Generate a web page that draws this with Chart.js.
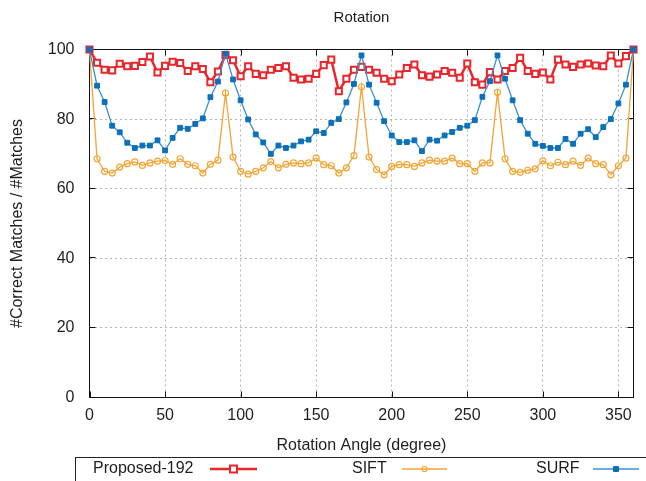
<!DOCTYPE html>
<html>
<head>
<meta charset="utf-8">
<title>Rotation</title>
<script src="https://cdn.jsdelivr.net/npm/chart.js@4/dist/chart.umd.min.js"></script>
<style>
  html, body { margin: 0; padding: 0; background: #fff; }
  canvas { display: block; }
</style>
</head>
<body>
<canvas id="rotationChart" width="646" height="481"></canvas>
<script>
// rotation angle in degrees, one sample every 5 degrees
const angles = [
    0, 5, 10, 15, 20, 25, 30, 35, 40, 45, 50, 55, 60, 65, 70, 75, 80, 85, 90,
    95, 100, 105, 110, 115, 120, 125, 130, 135, 140, 145, 150, 155, 160, 165, 170, 175, 180,
    185, 190, 195, 200, 205, 210, 215, 220, 225, 230, 235, 240, 245, 250, 255, 260, 265, 270,
    275, 280, 285, 290, 295, 300, 305, 310, 315, 320, 325, 330, 335, 340, 345, 350, 355, 360
];

// correct matches / matches (%)
const proposed192 = [
    100, 96.2, 94.2, 94.0, 95.9, 95.2, 95.3, 96.4, 98.0, 93.4, 95.3, 96.5, 96.1, 93.8, 95.2, 94.4, 90.6, 93.7, 98.4,
    96.9, 92.3, 95.2, 93.0, 92.6, 94.2, 94.7, 95.2, 91.9, 91.4, 91.6, 93.0, 95.5, 97.1, 88.0, 91.6, 94.2, 95.0,
    94.2, 93.3, 91.6, 90.9, 92.8, 94.7, 95.7, 92.6, 92.2, 92.8, 93.8, 93.3, 91.9, 96.0, 90.6, 89.9, 93.5, 91.4,
    93.8, 94.7, 97.6, 93.8, 93.0, 93.4, 91.4, 97.1, 95.7, 95.0, 95.7, 96.0, 95.4, 95.2, 98.3, 96.0, 98.1, 100
];
const sift = [
    100, 68.6, 65.0, 64.5, 66.2, 67.2, 67.7, 66.7, 67.4, 67.9, 68.1, 67.0, 68.6, 67.0, 66.6, 64.5, 67.0, 68.2, 87.5,
    69.1, 65.0, 64.2, 65.0, 66.0, 67.8, 66.0, 67.0, 67.4, 67.2, 67.4, 68.8, 66.9, 66.6, 64.5, 66.0, 69.5, 89.3,
    69.1, 65.5, 64.0, 66.4, 66.9, 66.9, 66.4, 67.4, 68.2, 67.9, 67.9, 68.8, 67.2, 67.2, 65.0, 67.4, 67.4, 87.7,
    68.6, 65.0, 64.7, 65.3, 65.7, 68.0, 66.6, 67.6, 66.9, 67.9, 66.7, 68.8, 67.2, 66.9, 64.0, 66.6, 68.8, 100
];
const surf = [
    100, 89.6, 84.9, 78.1, 76.2, 73.2, 71.7, 72.4, 72.4, 73.9, 71.0, 74.6, 77.5, 77.2, 78.6, 80.2, 86.3, 90.8, 98.8,
    91.4, 85.4, 79.9, 75.6, 73.3, 70.0, 72.4, 71.7, 72.4, 73.6, 74.1, 76.5, 76.0, 78.9, 80.0, 84.8, 90.1, 98.3,
    89.9, 84.7, 79.4, 75.3, 73.4, 73.4, 73.9, 70.8, 74.1, 73.8, 75.3, 76.3, 77.5, 78.1, 79.7, 86.4, 90.9, 98.3,
    91.6, 85.4, 79.7, 75.8, 72.9, 72.3, 71.7, 71.7, 74.3, 72.9, 75.8, 77.1, 74.8, 77.7, 80.0, 84.5, 89.9, 100
];

const seriesNames = ['Proposed-192', 'SIFT', 'SURF'];

const FONT = "'Liberation Sans', Arial, Helvetica, sans-serif";
const TEXT = '#1e1e1e';
const RED = '#e8262b';
const ORANGE = '#f2a535';
const BLUE = '#0b70b8';
const BLUE_LINE = '#3a8fd2';

function toPoints(values) {
    return angles.map((a, i) => ({ x: a, y: values[i] }));
}

function drawMarker(ctx, style, x, y) {
    ctx.save();
    ctx.lineWidth = style.borderWidth;
    ctx.strokeStyle = style.borderColor;
    ctx.fillStyle = style.fill;
    ctx.beginPath();
    if (style.shape === 'circle') {
        ctx.arc(x, y, style.size, 0, Math.PI * 2);
    } else {
        ctx.rect(x - style.size, y - style.size, style.size * 2, style.size * 2);
    }
    ctx.fill();
    ctx.stroke();
    ctx.restore();
}

// black frame with inward tick marks, drawn over the dotted grid
const framePlugin = {
    id: 'frame',
    beforeDatasetsDraw(chart) {
        const { ctx, chartArea: a, scales } = chart;
        ctx.save();
        ctx.strokeStyle = '#111';
        ctx.lineWidth = 1;
        ctx.strokeRect(a.left, a.top, a.right - a.left, a.bottom - a.top);
        ctx.beginPath();
        scales.x.ticks.forEach(t => {
            const px = Math.round(scales.x.getPixelForValue(t.value)) + 0.5;
            ctx.moveTo(px, a.bottom); ctx.lineTo(px, a.bottom - 6);
            ctx.moveTo(px, a.top); ctx.lineTo(px, a.top + 6);
        });
        scales.y.ticks.forEach(t => {
            const py = Math.round(scales.y.getPixelForValue(t.value)) - 0.5;
            ctx.moveTo(a.left, py); ctx.lineTo(a.left + 6, py);
            ctx.moveTo(a.right, py); ctx.lineTo(a.right - 6, py);
        });
        ctx.stroke();
        ctx.restore();
    },
    afterDraw(chart) {
        // boxed legend along the bottom edge
        const ctx = chart.ctx;
        const rowY = 469;
        ctx.save();
        ctx.strokeStyle = '#222';
        ctx.lineWidth = 1;
        ctx.strokeRect(75.5, 457.5, 600, 40);
        ctx.font = '16px ' + FONT;
        ctx.fillStyle = TEXT;
        ctx.textBaseline = 'middle';
        const slots = [
            { textX: 93, lineX: [210, 257] },
            { textX: 352, lineX: [402, 447] },
            { textX: 536, lineX: [593, 639] }
        ];
        chart.data.datasets.forEach((ds, i) => {
            const s = slots[i];
            ctx.fillText(seriesNames[i], s.textX, rowY);
            ctx.beginPath();
            ctx.strokeStyle = ds.borderColor;
            ctx.lineWidth = ds.borderWidth;
            ctx.moveTo(s.lineX[0], rowY);
            ctx.lineTo(s.lineX[1], rowY);
            ctx.stroke();
            drawMarker(ctx, ds.legendMarker, (s.lineX[0] + s.lineX[1]) / 2, rowY);
        });
        ctx.restore();
    }
};

new Chart(document.getElementById('rotationChart'), {
    type: 'line',
    data: {
        datasets: [
            {
                label: seriesNames[0],
                data: toPoints(proposed192),
                borderColor: RED,
                borderWidth: 2.5,
                pointStyle: 'rect',
                pointRadius: 4.3,
                pointBorderWidth: 2,
                pointBorderColor: RED,
                pointBackgroundColor: '#fff',
                order: 1,
                clip: false,
                legendMarker: { shape: 'rect', size: 3.5, borderWidth: 2, borderColor: RED, fill: '#fff' }
            },
            {
                label: seriesNames[1],
                data: toPoints(sift),
                borderColor: ORANGE,
                borderWidth: 1.3,
                pointStyle: 'circle',
                pointRadius: 3,
                pointBorderWidth: 1.2,
                pointBorderColor: ORANGE,
                pointBackgroundColor: 'rgba(255,255,255,0)',
                order: 2,
                clip: false,
                legendMarker: { shape: 'circle', size: 2.5, borderWidth: 1.2, borderColor: ORANGE, fill: 'rgba(255,255,255,0)' }
            },
            {
                label: seriesNames[2],
                data: toPoints(surf),
                borderColor: BLUE_LINE,
                borderWidth: 1.3,
                pointStyle: 'rect',
                pointRadius: 3.4,
                pointBorderWidth: 1,
                pointBorderColor: BLUE,
                pointBackgroundColor: BLUE,
                order: 0,
                clip: false,
                legendMarker: { shape: 'rect', size: 2.5, borderWidth: 1, borderColor: BLUE, fill: BLUE }
            }
        ]
    },
    options: {
        responsive: false,
        animation: false,
        devicePixelRatio: 1,
        layout: { padding: { left: 0, right: 12.5, top: 0, bottom: 21.5 } },
        elements: { line: { tension: 0 } },
        plugins: {
            legend: { display: false },
            tooltip: { enabled: false },
            title: {
                display: true,
                text: 'Rotation',
                fullSize: false,
                color: TEXT,
                font: { family: FONT, size: 15, weight: 'normal' },
                padding: { top: 9, bottom: 22.5 }
            }
        },
        scales: {
            x: {
                type: 'linear',
                min: 0,
                max: 360,
                afterFit(scale) { scale.height = 62; },
                ticks: {
                    stepSize: 50,
                    includeBounds: false,
                    padding: 8,
                    color: TEXT,
                    font: { family: FONT, size: 16 }
                },
                grid: { color: '#b4b4b4', lineWidth: 1, drawTicks: false },
                border: { display: false, dash: [2, 3] },
                title: {
                    display: true,
                    text: 'Rotation Angle (degree)',
                    color: TEXT,
                    font: { family: FONT, size: 16 },
                    padding: { top: 0, bottom: 4 }
                }
            },
            y: {
                min: 0,
                max: 100,
                afterFit(scale) { scale.width = 89.5; },
                ticks: {
                    stepSize: 20,
                    padding: 15,
                    color: TEXT,
                    font: { family: FONT, size: 16 }
                },
                grid: { color: '#b4b4b4', lineWidth: 1, drawTicks: false },
                border: { display: false, dash: [2, 3] },
                title: {
                    display: true,
                    text: '#Correct Matches / #Matches',
                    color: TEXT,
                    font: { family: FONT, size: 16 },
                    padding: { top: 8, bottom: 0 }
                }
            }
        }
    },
    plugins: [framePlugin]
});
</script>
</body>
</html>
